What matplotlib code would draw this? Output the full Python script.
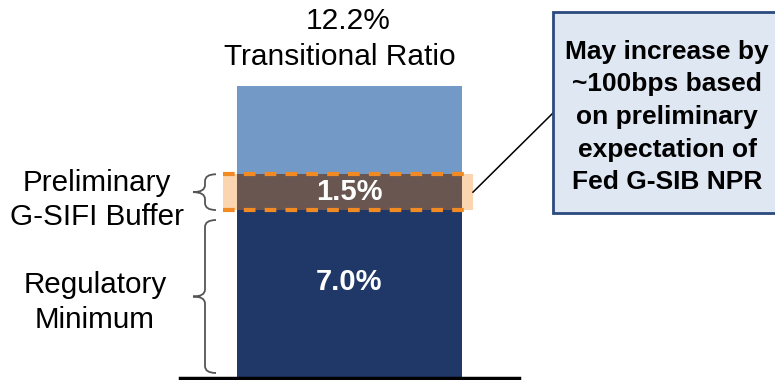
import matplotlib
matplotlib.use("Agg")
import matplotlib.pyplot as plt
from matplotlib.patches import Rectangle, PathPatch
from matplotlib.path import Path
from matplotlib.lines import Line2D

plt.rcParams['font.family'] = ['Liberation Sans', 'DejaVu Sans']

# ---- data ----
segments = ["Regulatory Minimum", "Preliminary G-SIFI Buffer", "Remaining"]
values = [7.0, 1.5, 3.7]
seg_labels = ["7.0%", "1.5%", ""]
total_value = 12.2
total_pct = "12.2%"
total_name = "Transitional Ratio"
left_labels = ["Regulatory\nMinimum", "Preliminary\nG-SIFI Buffer"]
callout_text = "May increase by\n~100bps based\non preliminary\nexpectation of\nFed G-SIB NPR"

colors = ["#1F3868", "#6A5650", "#7399C6"]
W, H = 775, 380
DPI = 100

fig = plt.figure(figsize=(W / DPI, H / DPI), dpi=DPI)

# bar axes: bar from x=237..462 px, y=0 at 377 px, 12.2 at 86 px
bx0, bx1 = 237, 462
by0, by1 = 377, 86
ax = fig.add_axes([bx0 / W, (H - by0) / H, (bx1 - bx0) / W, (by0 - by1) / H])
ax.set_xlim(-0.5, 0.5)
ax.set_ylim(0, total_value)
ax.axis("off")
ax.patch.set_alpha(0)

# overlay axes in pixel coordinates (y downward), drawn above the bar axes
ov = fig.add_axes([0, 0, 1, 1])
ov.set_xlim(0, W)
ov.set_ylim(H, 0)
ov.axis("off")
ov.set_zorder(5)

def ypix(v):
    disp = ax.transData.transform((0, v))
    return ov.transData.inverted().transform(disp)[1]

# peach highlight behind buffer segment
pad_l, pad_r = 14 / 225, 11 / 225
buf_lo, buf_hi = values[0], values[0] + values[1]
ax.add_patch(Rectangle((-0.5 - pad_l, buf_lo), 1 + pad_l + pad_r, values[1],
                       facecolor="#FBD5B0", edgecolor="none", zorder=1, clip_on=False))

bottom = 0
for v, c in zip(values, colors):
    ax.bar(0, v, width=1.0, bottom=bottom, color=c, edgecolor="none", zorder=2)
    bottom += v

# orange dashed lines
for yv in (buf_lo, buf_hi):
    ax.add_line(Line2D([-0.5 - pad_l, 0.5 + pad_r], [yv, yv], color="#F28A24", lw=3,
                       linestyle=(0, (2.8, 2.2)), zorder=3, clip_on=False))

# segment labels
ax.text(0, (buf_lo + buf_hi) / 2, seg_labels[1], ha="center", va="center",
        color="white", fontsize=21, fontweight="bold", zorder=4)
ov.text(349, 282, seg_labels[0], ha="center", va="center",
        color="white", fontsize=21, fontweight="bold", zorder=4)

# title above bar
ov.text(348, 21, total_pct, ha="center", va="center", fontsize=21.5, color="black")
ov.text(340, 57, total_name, ha="center", va="center", fontsize=21.5, color="black")

# baseline
ov.add_line(Line2D([180, 519], [378, 378], color="black", lw=2.5))

# braces
def brace(y0, y1, xr=216, xm=205, xl=193, r=7):
    yc = (y0 + y1) / 2
    verts = [(xr, y0), (xm, y0), (xm, y0 + r),
             (xm, yc - r), (xm, yc), (xl, yc),
             (xm, yc), (xm, yc + r),
             (xm, y1 - r), (xm, y1), (xr, y1)]
    codes = [Path.MOVETO, Path.CURVE3, Path.CURVE3,
             Path.LINETO, Path.CURVE3, Path.CURVE3,
             Path.CURVE3, Path.CURVE3,
             Path.LINETO, Path.CURVE3, Path.CURVE3]
    ov.add_patch(PathPatch(Path(verts, codes), facecolor="none",
                           edgecolor="#555555", lw=1.3))
    return yc

yc1 = brace(ypix(buf_hi), ypix(buf_lo))
yc0 = brace(ypix(buf_lo) + 10, ypix(0) - 4)

ov.text(97, yc1 + 8, left_labels[1], ha="center", va="center", fontsize=21.3,
        linespacing=1.3)
ov.text(95, yc0 + 6, left_labels[0], ha="center", va="center", fontsize=21.3,
        linespacing=1.3)

# callout box
ov.add_patch(Rectangle((553, 12), 240, 201, facecolor="#DFE7F2",
                       edgecolor="#2B4A7E", lw=2, zorder=5, clip_on=False))
ov.text(667, 117, callout_text, ha="center", va="center", fontsize=19,
        fontweight="bold", linespacing=1.45, zorder=6)

# leader line
ov.add_line(Line2D([473, 553], [(ypix(buf_lo) + ypix(buf_hi)) / 2, 113],
                   color="black", lw=1.1))

fig.savefig("out.png", dpi=DPI)
